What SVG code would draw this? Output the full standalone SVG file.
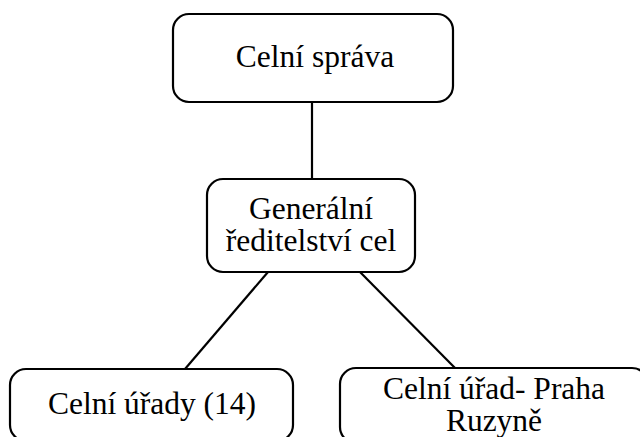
<svg xmlns="http://www.w3.org/2000/svg" width="640" height="437" viewBox="0 0 640 437">
<style>
.box{fill:#fff;stroke:#000;stroke-width:2.2}
.t{font-family:'Liberation Serif','Times New Roman','DejaVu Serif',serif;font-size:31.5px;fill:#000;text-anchor:middle}
.c{stroke:#000;stroke-width:2.2;fill:none}
</style>
<rect width="640" height="437" fill="#fff"/>
<g id="connectors">
<line class="c" x1="312" y1="102" x2="312" y2="179"/>
<line class="c" x1="268" y1="272" x2="185" y2="369"/>
<line class="c" x1="360" y1="272" x2="455" y2="368"/>
</g>
<g id="celni-sprava">
<rect class="box" x="173" y="14" width="280" height="88" rx="16"/>
<text class="t" x="315" y="67" font-family="Liberation Serif, serif">Celní správa</text>
</g>
<g id="generalni-reditelstvi">
<rect class="box" x="207" y="179" width="208" height="93" rx="16"/>
<text class="t" x="311" y="219">Generální</text>
<text class="t" x="311" y="251">ředitelství cel</text>
</g>
<g id="celni-urady">
<rect class="box" x="10" y="369" width="283" height="72" rx="16"/>
<text class="t" x="152" y="414">Celní úřady (14)</text>
</g>
<g id="celni-urad-praha">
<rect class="box" x="340" y="368" width="308" height="75" rx="16"/>
<text class="t" x="494" y="399">Celní úřad- Praha</text>
<text class="t" x="494" y="431">Ruzyně</text>
</g>
</svg>
